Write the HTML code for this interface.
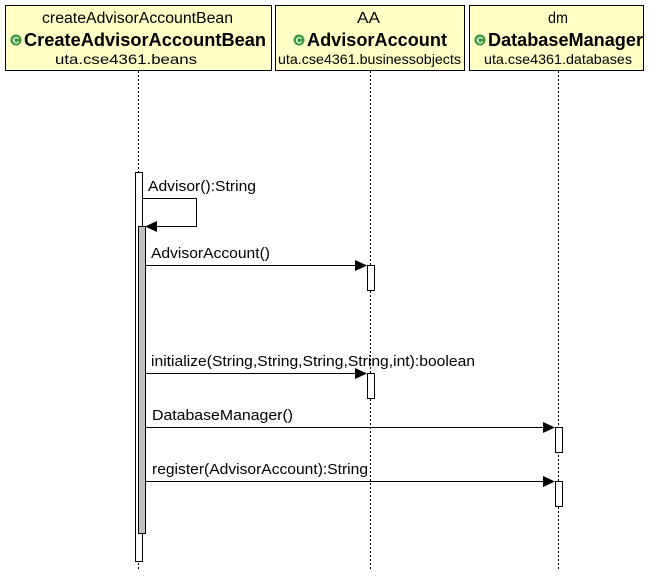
<!DOCTYPE html>
<html><head><style>
body{margin:0;background:#fff;width:657px;height:571px;overflow:hidden}
</style></head><body>
<svg width="657" height="571" xmlns="http://www.w3.org/2000/svg" font-family="Liberation Sans, Arial, sans-serif">
<defs>
<g id="ci"><circle r="5.5" fill="#3a9a3a"/><text y="3.5" font-size="9" font-weight="bold" fill="#fff" text-anchor="middle">C</text></g>
</defs>
<g stroke="#000" stroke-width="1" fill="#ffffc6">
<rect x="5.5" y="5.5" width="266" height="65"/>
<rect x="275.5" y="5.5" width="189" height="65"/>
<rect x="469.5" y="5.5" width="174" height="65"/>
</g>
<g font-size="15.5" fill="#000" lengthAdjust="spacingAndGlyphs">
<text x="42" y="23" textLength="191" lengthAdjust="spacingAndGlyphs">createAdvisorAccountBean</text>
<text x="357" y="23" textLength="23" lengthAdjust="spacingAndGlyphs">AA</text>
<text x="548" y="23" textLength="20" lengthAdjust="spacingAndGlyphs">dm</text>
<text x="24" y="46" font-weight="bold" font-size="18" textLength="242" lengthAdjust="spacingAndGlyphs">CreateAdvisorAccountBean</text>
<text x="307" y="46" font-weight="bold" font-size="18" textLength="140" lengthAdjust="spacingAndGlyphs">AdvisorAccount</text>
<text x="488" y="46" font-weight="bold" font-size="18" textLength="155" lengthAdjust="spacingAndGlyphs">DatabaseManager</text>
<text x="55" y="64" font-size="14" textLength="142" lengthAdjust="spacingAndGlyphs">uta.cse4361.beans</text>
<text x="278" y="64" font-size="14" textLength="183" lengthAdjust="spacingAndGlyphs">uta.cse4361.businessobjects</text>
<text x="484" y="64" font-size="14" textLength="148" lengthAdjust="spacingAndGlyphs">uta.cse4361.databases</text>
</g>
<use href="#ci" x="16" y="40"/>
<use href="#ci" x="299" y="40"/>
<use href="#ci" x="480" y="40"/>
<g stroke="#000" stroke-dasharray="2,2">
<line x1="138.5" y1="71" x2="138.5" y2="571"/>
<line x1="370.5" y1="71" x2="370.5" y2="571"/>
<line x1="558.5" y1="71" x2="558.5" y2="571"/>
</g>
<g stroke="#000" fill="#fff">
<rect x="135.5" y="172.5" width="7" height="389"/>
<rect x="138.5" y="226.5" width="7" height="307" fill="#c0c0c0"/>
<rect x="367.5" y="265.5" width="7" height="25"/>
<rect x="367.5" y="373.5" width="7" height="25"/>
<rect x="555.5" y="427.5" width="7" height="25"/>
<rect x="555.5" y="481.5" width="7" height="25"/>
</g>
<g stroke="#000" fill="none">
<polyline points="142,198.5 196.5,198.5 196.5,226.5 156,226.5"/>
<line x1="145" y1="265.5" x2="356" y2="265.5"/>
<line x1="145" y1="373.5" x2="356" y2="373.5"/>
<line x1="145" y1="427.5" x2="544" y2="427.5"/>
<line x1="145" y1="481.5" x2="544" y2="481.5"/>
</g>
<g fill="#000">
<polygon points="145,226.5 157,221 157,232"/>
<polygon points="367,265.5 355,260 355,271"/>
<polygon points="367,373.5 355,368 355,379"/>
<polygon points="555,427.5 543,422 543,433"/>
<polygon points="555,481.5 543,476 543,487"/>
</g>
<g font-size="15" fill="#000">
<text x="148" y="191" textLength="108" lengthAdjust="spacingAndGlyphs">Advisor():String</text>
<text x="151" y="258" textLength="119" lengthAdjust="spacingAndGlyphs">AdvisorAccount()</text>
<text x="151" y="366" textLength="324" lengthAdjust="spacingAndGlyphs">initialize(String,String,String,String,int):boolean</text>
<text x="152" y="420" textLength="141" lengthAdjust="spacingAndGlyphs">DatabaseManager()</text>
<text x="152" y="474" textLength="216" lengthAdjust="spacingAndGlyphs">register(AdvisorAccount):String</text>
</g>
</svg>
</body></html>
